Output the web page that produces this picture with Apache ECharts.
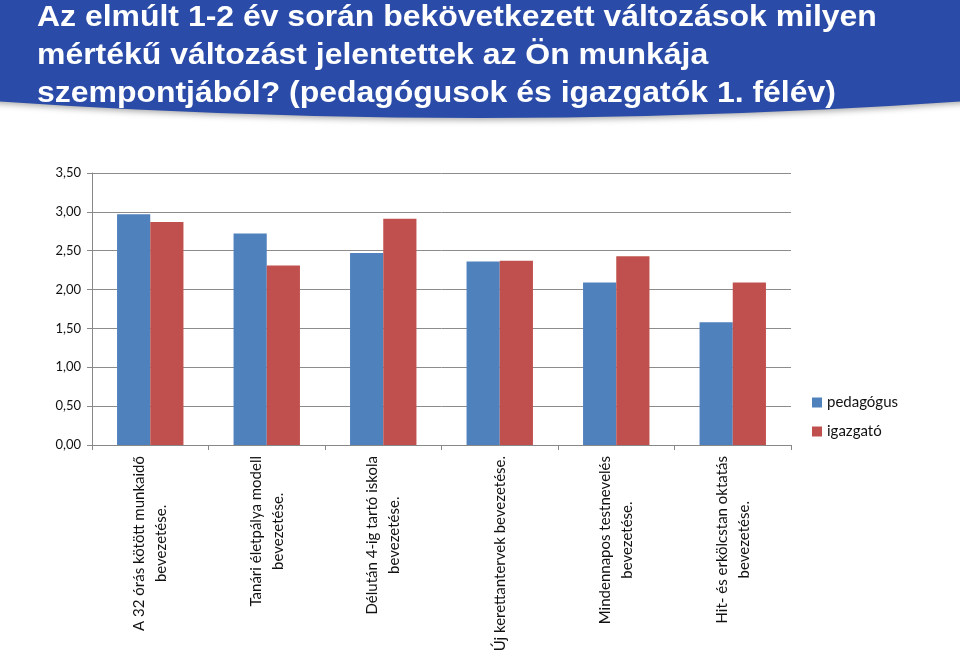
<!DOCTYPE html>
<html>
<head>
<meta charset="utf-8">
<script src="https://cdn.jsdelivr.net/npm/echarts@6/dist/echarts.min.js"></script>
<style>
html,body{margin:0;padding:0;background:#fff;}
#c{width:960px;height:656px;}
</style>
</head>
<body>
<div id="c"></div>
<script>
var titleLines = [
  'Az elmúlt 1-2 év során bekövetkezett változások milyen',
  'mértékű változást jelentettek az Ön munkája',
  'szempontjából? (pedagógusok és igazgatók 1. félév)'
];
var categories = [
  ['A 32 órás kötött munkaidő', 'bevezetése.'],
  ['Tanári életpálya modell', 'bevezetése.'],
  ['Délután 4-ig tartó iskola', 'bevezetése.'],
  ['Új kerettantervek bevezetése.'],
  ['Mindennapos testnevelés', 'bevezetése.'],
  ['Hit- és erkölcstan oktatás', 'bevezetése.']
];
var seriesNames = ['pedagógus', 'igazgató'];
var pedagogus = [2.97, 2.72, 2.47, 2.36, 2.09, 1.58];
var igazgato = [2.87, 2.31, 2.91, 2.37, 2.43, 2.09];

var chart = echarts.init(document.getElementById('c'), null, {renderer: 'canvas'});

var titleGraphics = titleLines.map(function (t, i) {
  return {
    type: 'text',
    x: 37,
    y: 3 + i * 38,
    scaleX: 1.065,
    z: 10,
    style: {
      text: t,
      fill: '#ffffff',
      font: 'bold 30px "Liberation Sans", Arial, sans-serif',
      verticalAlign: 'top'
    }
  };
});

var option = {
  backgroundColor: '#ffffff',
  animation: false,
  graphic: [
    {
      type: 'circle',
      z: 5,
      shape: {cx: 480, cy: 118 - 7000, r: 7000},
      style: {
        fill: '#2a4ca8',
        shadowBlur: 6,
        shadowColor: 'rgba(0,0,0,0.35)',
        shadowOffsetY: 2
      }
    }
  ].concat(titleGraphics),
  grid: {left: 92, right: 169, top: 173, bottom: 211, outerBoundsMode: 'none', containLabel: false},
  legend: {
    orient: 'vertical',
    left: 807,
    top: 390,
    itemWidth: 10,
    itemHeight: 10,
    itemGap: 14,
    icon: 'rect',
    textStyle: {fontFamily: 'Lato', fontSize: 15, color: '#111'},
    data: seriesNames
  },
  xAxis: {
    type: 'category',
    data: categories.map(function (c) { return c.join('\n'); }),
    axisLine: {lineStyle: {color: '#888', width: 1}},
    axisTick: {show: true, length: 5, lineStyle: {color: '#888'}},
    axisLabel: {
      rotate: 90,
      interval: 0,
      margin: 11,
      fontFamily: 'Lato',
      fontSize: 15,
      color: '#111',
      lineHeight: 22,
      formatter: function (v) {
        return v.split('\n').map(function (l) { return '{c|' + l + '}'; }).join('\n');
      },
      rich: {c: {align: 'center', fontFamily: 'Lato', fontSize: 15, color: '#111', lineHeight: 22}}
    }
  },
  yAxis: {
    type: 'value',
    min: 0,
    max: 3.5,
    interval: 0.5,
    axisLine: {show: true, lineStyle: {color: '#888'}},
    axisTick: {show: true, length: 5, lineStyle: {color: '#888'}},
    splitLine: {lineStyle: {color: '#8c8c8c', width: 1}},
    axisLabel: {
      margin: 11,
      fontFamily: 'Lato',
      fontSize: 13,
      color: '#111',
      formatter: function (v) { return v.toFixed(2).replace('.', ','); }
    }
  },
  series: [
    {
      name: seriesNames[0],
      type: 'bar',
      data: pedagogus,
      barGap: '0%',
      barCategoryGap: '43%',
      itemStyle: {color: '#4f81bd'}
    },
    {
      name: seriesNames[1],
      type: 'bar',
      data: igazgato,
      itemStyle: {color: '#c0504d'}
    }
  ]
};
chart.setOption(option);
</script>
</body>
</html>
